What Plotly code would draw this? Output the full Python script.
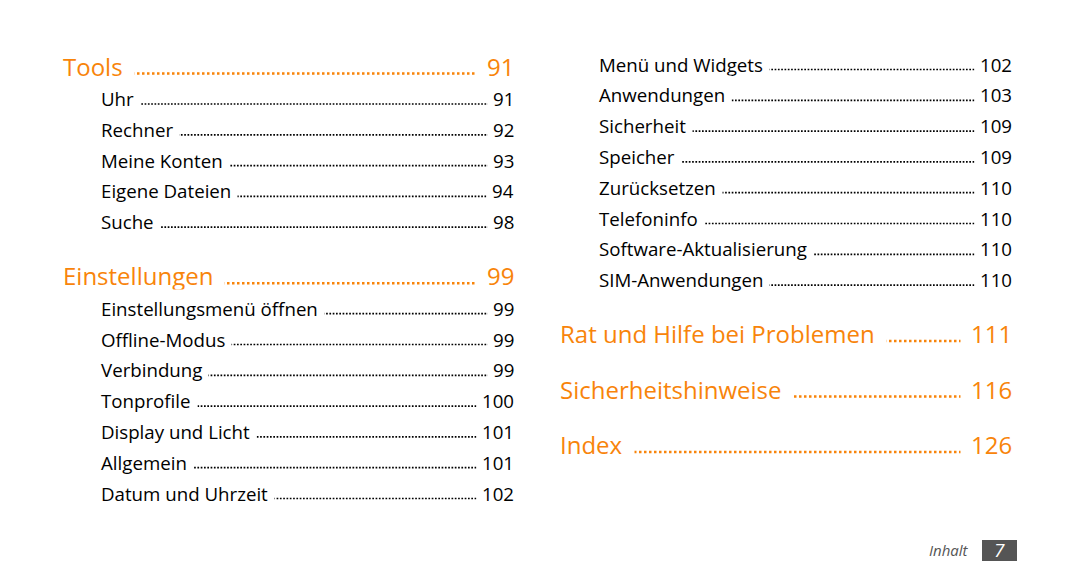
import plotly.graph_objects as go

# ---------------- data ----------------
left_titles = ["Tools", "Uhr", "Rechner", "Meine Konten", "Eigene Dateien", "Suche",
               "Einstellungen", "Einstellungsmenü öffnen", "Offline-Modus", "Verbindung",
               "Tonprofile", "Display und Licht", "Allgemein", "Datum und Uhrzeit"]
left_pages = [91, 91, 92, 93, 94, 98, 99, 99, 99, 99, 100, 101, 101, 102]
left_levels = [0, 1, 1, 1, 1, 1, 0, 1, 1, 1, 1, 1, 1, 1]

right_titles = ["Menü und Widgets", "Anwendungen", "Sicherheit", "Speicher", "Zurücksetzen",
                "Telefoninfo", "Software-Aktualisierung", "SIM-Anwendungen",
                "Rat und Hilfe bei Problemen", "Sicherheitshinweise", "Index"]
right_pages = [102, 103, 109, 109, 110, 110, 110, 110, 111, 116, 126]
right_levels = [1, 1, 1, 1, 1, 1, 1, 1, 0, 0, 0]

footer_label = "Inhalt"
footer_page = "7"

# ---------------- style ----------------
W, H = 1080, 586
OFF = 8  # default page body margin
ORANGE = "#F8840A"
BLACK = "#000000"
FONT = "Open Sans"
HEAD_SIZE = 24
SUB_SIZE = 18.7

GAP = {(1, 1): 30.8, (0, 1): 32.5, (1, 0): 54.0, (0, 0): 55.5}


def row_positions(levels, start):
    ys = [start]
    for a, b in zip(levels[:-1], levels[1:]):
        ys.append(ys[-1] + GAP[(a, b)])
    return ys


fig = go.Figure()
annotations = []


def add_column(titles, pages, levels, y0, head_x, sub_x, num_right):
    ys = row_positions(levels, y0)
    for t, p, lv, y in zip(titles, pages, levels, ys):
        head = lv == 0
        size = HEAD_SIZE if head else SUB_SIZE
        color = ORANGE if head else BLACK
        pad = 11 if head else 6
        npad = 10 if head else 5
        x0 = head_x if head else sub_x
        dot_w = 2.5 if head else 1.7
        dash = "2.5px,2.5px" if head else "1.7px,1.6px"
        yd = y + (7.5 if head else 5.5)
        fig.add_trace(go.Scatter(
            x=[x0 + 5, num_right - 5], y=[yd, yd], mode="lines",
            line=dict(color=color, width=dot_w, dash=dash),
            hoverinfo="skip", showlegend=False))
        annotations.append(dict(
            x=x0 - pad, y=y, xref="x", yref="y", text=t, showarrow=False,
            xanchor="left", yanchor="middle", bgcolor="white", borderpad=pad,
            font=dict(family=FONT, size=size, color=color)))
        annotations.append(dict(
            x=num_right + npad, y=y, xref="x", yref="y", text=str(p), showarrow=False,
            xanchor="right", yanchor="middle", bgcolor="white", borderpad=npad,
            font=dict(family=FONT, size=size, color=color)))


add_column(left_titles, left_pages, left_levels, 66, 62, 100, 515)
add_column(right_titles, right_pages, right_levels, 64, 559, 598, 1013)

# footer
annotations.append(dict(x=971, y=550, xref="x", yref="y", text="<i>" + footer_label + "</i>",
                        showarrow=False, xanchor="right", yanchor="middle",
                        font=dict(family=FONT, size=15, color="#555555")))
annotations.append(dict(x=999.5, y=550, xref="x", yref="y", text="<i>" + footer_page + "</i>",
                        showarrow=False, xanchor="center", yanchor="middle",
                        font=dict(family=FONT, size=19, color="white")))

fig.update_layout(
    width=W, height=H,
    margin=dict(l=0, r=0, t=0, b=0),
    paper_bgcolor="white", plot_bgcolor="white",
    xaxis=dict(range=[OFF, W + OFF], visible=False, fixedrange=True),
    yaxis=dict(range=[H + OFF, OFF], visible=False, fixedrange=True),
    annotations=annotations,
    shapes=[dict(type="rect", xref="x", yref="y", x0=982, x1=1017, y0=540, y1=561,
                 fillcolor="#555555", line=dict(width=0), layer="below")],
    showlegend=False,
)

fig.write_html("out.html", config={"displayModeBar": False})
